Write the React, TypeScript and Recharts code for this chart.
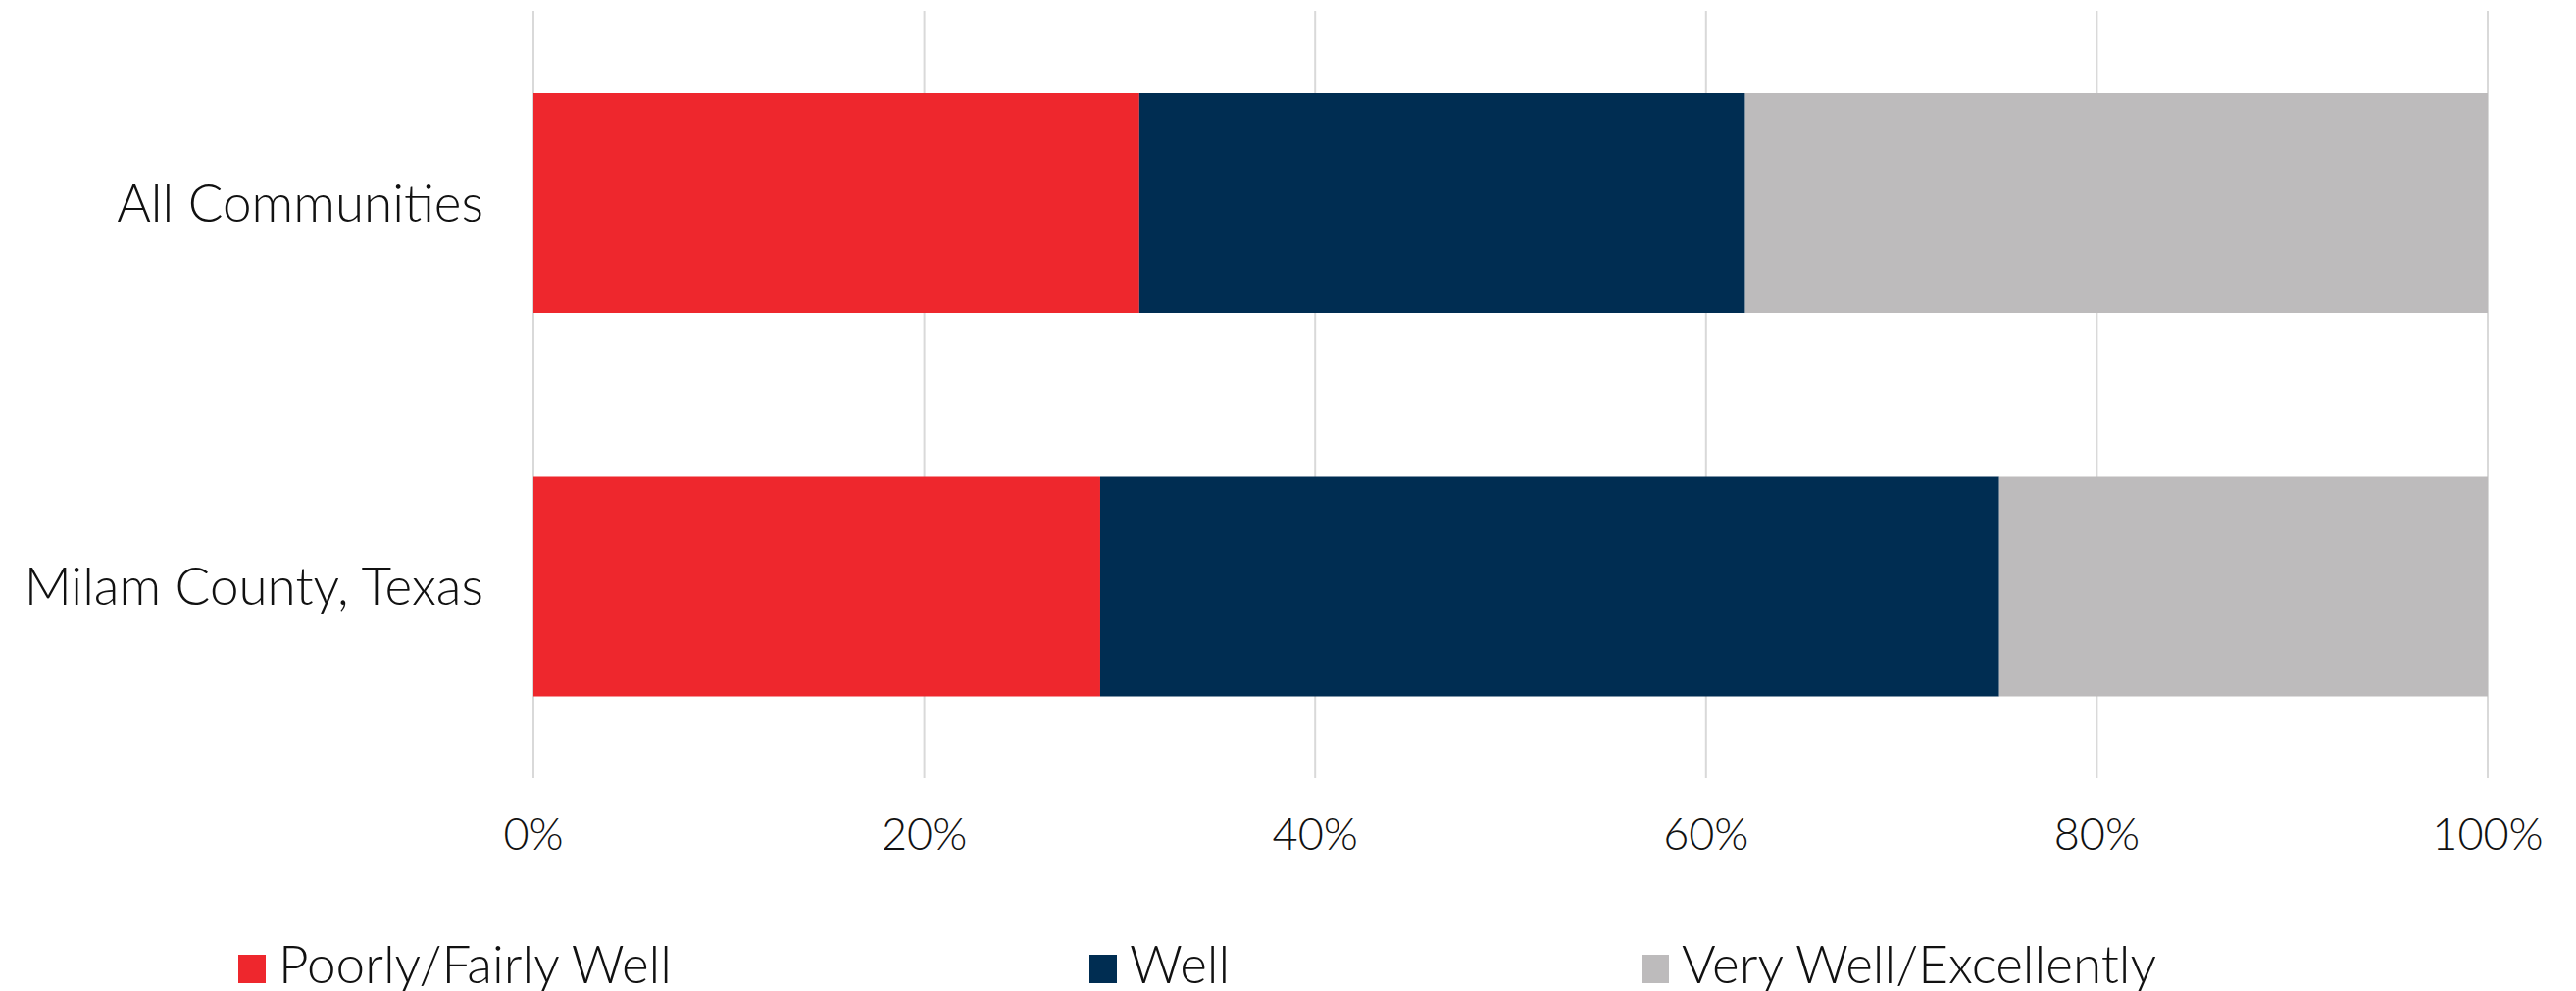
import React from 'react';
import { BarChart, Bar, XAxis, YAxis, CartesianGrid } from 'recharts';

const categories = ['All Communities', 'Milam County, Texas'];
const poorlyFairly = [31, 29];
const well = [31, 46];
const veryWell = [38, 25];
const xTicks = [0, 20, 40, 60, 80, 100];

const seriesNames = ['Poorly/Fairly Well', 'Well', 'Very Well/Excellently'];
const seriesColors = ['#EE272D', '#002D52', '#BDBBBC'];

const data = categories.map((name, i) => ({
  name,
  poorly: poorlyFairly[i],
  well: well[i],
  veryWell: veryWell[i],
}));

const FONT = 'Lato, "Open Sans", sans-serif';

const App: React.FC = () => {
  // legend column widths follow the source layout
  const legendWidths = [868, 563, 700];

  return (
    <div style={{ position: 'absolute', left: 0, top: 0, width: 2627, height: 1011, background: '#fff', fontFamily: FONT }}>
      <BarChart
        width={2627}
        height={958}
        data={data}
        layout="vertical"
        margin={{ top: 11, right: 90, bottom: 0, left: 0 }}
        barSize={224}
      >
        <CartesianGrid horizontal={false} stroke="#D9D9D9" strokeWidth={2} />
        <XAxis
          type="number"
          domain={[0, 100]}
          ticks={xTicks}
          tickFormatter={(v: number) => `${v}%`}
          axisLine={false}
          tickLine={false}
          tickSize={0}
          tickMargin={41}
          height={164}
          tick={{ fill: '#111', fontSize: 45, fontFamily: FONT, fontWeight: 300 }}
        />
        <YAxis
          type="category"
          dataKey="name"
          width={544}
          axisLine={false}
          tickLine={false}
          tickSize={0}
          tickMargin={51}
          tick={{ fill: '#111', fontSize: 53, fontFamily: FONT, fontWeight: 300 }}
        />
        <Bar dataKey="poorly" stackId="a" fill={seriesColors[0]} isAnimationActive={false} />
        <Bar dataKey="well" stackId="a" fill={seriesColors[1]} isAnimationActive={false} />
        <Bar dataKey="veryWell" stackId="a" fill={seriesColors[2]} isAnimationActive={false} />
      </BarChart>
      <div style={{ display: 'flex', alignItems: 'baseline', paddingLeft: 243, lineHeight: 1, fontSize: 53, fontWeight: 300, color: '#111', marginTop: -2 }}>
        {seriesNames.map((n, i) => (
          <div key={n} style={{ display: 'flex', alignItems: 'baseline', width: legendWidths[i] }}>
            <div style={{ width: 28, height: 29, background: seriesColors[i], marginRight: 13 }} />
            <span>{n}</span>
          </div>
        ))}
      </div>
    </div>
  );
};

export default App;
